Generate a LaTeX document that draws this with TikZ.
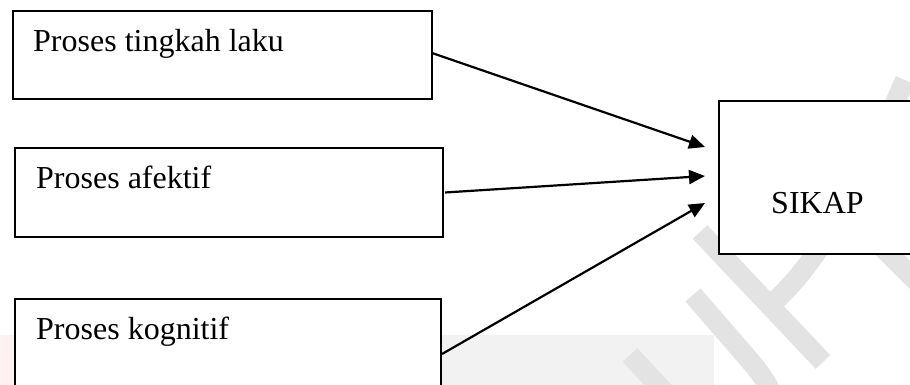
\documentclass[tikz,border=0pt]{standalone}
\usepackage{fontspec}
\setmainfont{Liberation Serif}
\usetikzlibrary{arrows.meta,calc}
\begin{document}
\begin{tikzpicture}[x=1pt,y=-1pt,
  box/.style={draw=black, line width=1.7pt, fill=white, rectangle,
    inner sep=0pt, outer sep=0pt, anchor=north west},
  lbl/.style={anchor=base west, inner sep=0pt,
    font=\fontsize{32}{38}\selectfont},
  link/.style={line width=2.2pt, -{Triangle[length=16pt,width=14pt]}},
  wm/.style={line width=20pt, draw=black!11, line cap=butt}]
\useasboundingbox (0,0) rectangle (910,385);

% faint background band and watermark strokes
\fill[black!5] (0,335) rectangle (714,400);
\shade[left color=red!5, right color=black!5] (0,335) rectangle (40,400);
\draw[wm] (630,355) -- (670,398);
\draw[wm] (693,295) -- (745,355) .. controls (758,370) and (768,382) .. (774,400);
\draw[wm] (700,232) -- (823,362);
\draw[wm] (776,300) .. controls (830,250) and (870,160) .. (905,80);
\draw[wm] (880,245) -- (925,290);

% boxes
\node[box, minimum width=419.3pt, minimum height=88pt] (b1) at (12.7,11) {};
\node[box, minimum width=428pt, minimum height=89pt] (b2) at (15,148) {};
\node[box, minimum width=426pt, minimum height=110pt] (b3) at (15,299) {};
\node[box, minimum width=300pt, minimum height=153pt] (s) at (719,101) {};

% labels
\node[lbl] (l1) at (33,52) {Proses tingkah laku};
\node[lbl] (l2) at (36,188) {Proses afektif};
\node[lbl] (l3) at (36,339) {Proses kognitif};
\node[lbl] (ls) at (771,213) {SIKAP};

% arrow ends in front of the SIKAP box
\coordinate (t1) at (705,147);
\coordinate (t2) at (705,176);
\coordinate (t3) at (705,203);

\draw[link] ($(b1.east)+(0,-2)$) -- (t1);
\draw[link] ($(b2.east)+(2,0)$) -- (t2);
\draw[link] ($(b3.east)+(1,0)$) -- (t3);
\end{tikzpicture}
\end{document}
